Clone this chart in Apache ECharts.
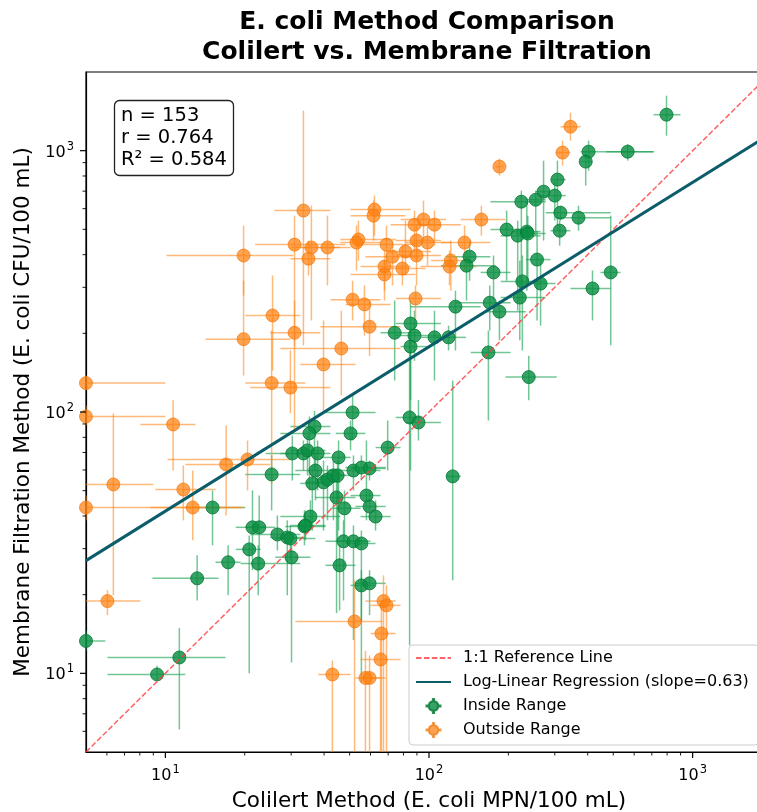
<!DOCTYPE html>
<html><head><meta charset="utf-8">
<script src="https://cdn.jsdelivr.net/npm/echarts@6/dist/echarts.min.js"></script>
<style>html,body{margin:0;padding:0;background:#fff}#chart{width:757px;height:812px}</style>
</head><body><div id="chart"></div>
<script>
const FONT = "'DejaVu Sans', sans-serif";
const titleText = 'E. coli Method Comparison\nColilert vs. Membrane Filtration';
const xName = 'Colilert Method (E. coli MPN/100 mL)';
const yName = 'Membrane Filtration Method (E. coli CFU/100 mL)';
const xRange = [5, 2000];
const yRange = [5, 2000];
const majorTicks = [10, 100, 1000];
const tickBases = ['10', '10', '10'];
const tickExponents = ['1', '2', '3'];
const minorTicks = [6,7,8,9,20,30,40,50,60,70,80,90,200,300,400,500,600,700,800,900];
const refLine = [[5, 5], [2000, 2000]];
const regressionLine = [[5, 27], [2000, 1170]];
const statsLines = ['n = 153', 'r = 0.764', 'R\u00b2 = 0.584'];
const seriesNames = ['1:1 Reference Line', 'Log-Linear Regression (slope=0.63)', 'Inside Range', 'Outside Range'];

// [x, y, xLow, xHigh, yLow, yHigh]
const insideRange = [
[796,1373,711,900,1141,1623],[403,991,376,711,838,1092],[567,991,470,711,916,1060],[393,908,376,417,735,1000],
[307,775,289,330,494,916],[272,697,254,289,453,916],[254,649,233,277,473,703],[300,673,265,330,540,768],
[224,638,171,277,291,703],[315,579,277,489,540,616],[369,554,302,489,494,616],[313,494,289,344,433,540],
[197,499,171,243,318,590],[217,473,187,265,244,540],[235,490,204,265,291,644],[237,482,213,277,318,564],
[257,383,233,289,224,494],[142.5,393,116,171,318,453],[138.8,363,111,179,267,415],[175.7,342,157,204,267,397],
[226,316,187,277,172,397],[265,310,222,302,214,380],[489,342,447,533,180,564],[417,297,344,489,224,348],
[221,274,187,277,188,380],[170,262,126,204,205,305],[126,253,85.1,157,172,291],[185,242,164,233,188,267],
[85.1,218,74.8,111,59.7,267],[74.1,201,65.5,92.9,132,267],[88.1,196,74.8,111,157,244],[104.9,193,92.9,121,132,244],
[118.6,193,106.6,138,172,214],[85.1,178,78,101.8,111,205],[168,169,144,204,92.8,205],[239,136,195,305,111,164],
[123,56.7,116,132,22.7,132],[84.4,95.3,74.8,92.9,12.8,205],[91.2,91.2,81.4,111,77.8,111],[69.7,73.1,62.7,78,59.7,92.8],
[51.3,99.6,40.5,62.7,77.8,116],[36.8,88,29.8,42.3,59.7,101],[35.2,82.8,27.3,42.3,50.1,96.1],[50.4,82.8,44.3,57.4,71.3,92.8],
[30.3,69.4,24,38.7,54.7,81.3],[33.4,69.4,27.3,38.7,59.7,77.8],[34.6,71.3,29.8,40.5,57.2,81.3],[37.8,69.4,32.5,42.3,50.1,77.8],
[45.4,67,38.7,50.4,35.2,77.8],[25.3,57.7,20.1,32.5,42,68.2],[37.1,59.7,31.1,44.3,45.9,68.2],[51.7,59.7,42.3,65.5,50.1,68.2],
[55.4,61.3,48.2,68.5,54.7,68.2],[59.5,60.8,50.4,68.5,54.7,65.2],[36.1,53.3,32.5,42.3,35.2,62.4],[39.8,53.8,34,46.1,35.2,65.2],
[41.2,55.2,37.1,46.1,38.5,62.4],[43.4,57.2,38.7,48.2,38.5,65.2],[45,57.2,40.5,50.4,32.3,65.2],[44.6,47.1,37.1,52.6,17,54.7],
[57.9,47.9,50.4,65.5,38.5,77.8],[59.5,43.5,52.6,68.5,38.5,50.1],[62.7,39.8,55,71.5,35.2,45.9],[47.8,42.8,42.3,55,32.3,50.1],
[35.5,39.8,27.3,46.1,35.2,45.9],[33.7,36.5,28.5,40.5,30.9,42],[34,36.8,29.8,40.5,32.3,42],[21.4,36.2,18.5,24,24.8,50.1],
[22.7,36.2,20.1,26.1,24.8,47.9],[26.6,34,21,32.5,29.5,40.2],[29,33.1,25,34,19.9,38.5],[29.8,32.8,26.1,37.1,27,36.8],
[20.8,29.8,18.5,23,10,33.7],[22.5,26.3,19.3,32.5,19.9,30.9],[30.1,27.8,26.1,35.5,11,32.3],[17.3,26.6,15.5,19.3,19.9,30.9],
[15.1,43.1,11.9,20.1,30.9,50.1],[13.2,23.1,8.93,15.9,19,28.3],[47.4,32,40.5,57.4,19,38.5],[51.7,32,44.3,60,13.4,36.8],
[55.4,31.4,48.2,62.7,15.9,35.2],[45.8,25.9,40.5,52.6,17.4,30.9],[55.4,21.7,50.4,62.7,9.2,24.8],[59.5,22.1,52.6,68.5,16.7,24.8],
[5,13.3,4.5,5.92,12.2,14.6],[11.3,11.5,6.03,16.9,6.1,14.9],[9.3,9.9,6.03,11.9,9.4,10.7]
];

const outsideRange = [
[33.4,590,25.9,42.3,180,1422],[19.8,397,10.1,30.6,279,517],[30.9,437,21.9,48.2,178,564],[35.8,426,29.8,46.1,224,616],
[34.9,386,29.8,42.3,333,453],[41.2,426,32.5,50.4,305,564],[54,457,46.1,74.8,380,540],[53.1,445,46.1,65.5,348,517],
[62.1,595,50.4,85.1,473,673],[61.6,564,50.4,81.4,453,644],[69,437,52.6,88.9,363,517],[72.7,393,57.4,92.9,305,453],
[67.8,360,55,85.1,267,415],[67.8,336,50.4,88.9,291,380],[79.3,354,65.5,97.1,305,433],[81.4,411,68.5,101.8,333,540],
[88.1,521,71.5,111,415,590],[95.3,545,78,116,453,644],[104.9,521,85.1,132,433,590],[89.7,453,74.8,111,380,517],
[89.7,397,74.8,111,305,453],[98.7,445,81.4,121,363,517],[136.4,445,111,171,348,517],[121,380,101.8,144,291,453],
[119.6,360,92.9,151,305,415],[158,545,132,195,473,616],[185,869,179,192,802,932],[321,983,302,344,876,1092],
[344,1235,315,376,1092,1398],[51.3,269,42.3,65.5,224,318],[56.9,258,48.2,71.5,196,305],[88.9,272,74.8,111,224,305],
[59.5,212,38.7,78,164,267],[46.5,175,27.3,78,116,244],[39.8,152,32.5,52.6,101,224],[30.9,201,25,38.7,85,267],
[25.5,234,20.1,32.5,144,333],[19.8,190,14.2,29.8,138,318],[29.8,124,21,42.3,99,172],[25.3,129,20.1,34,53,205],
[5,129,4.5,10,121,138],[5,96.1,4.5,10,88.8,106],[5,43.1,4.5,19.8,38.5,47.9],[6.35,52.8,5,9,19.9,98.7],
[10.7,89.6,8.04,13,59.7,111],[11.7,50.5,9.17,15.5,38.5,62.4],[12.7,43.1,8.77,19.3,32.3,59.7],[17,63,11.9,25,40.2,88.8],
[20.5,65.8,10.2,29.8,50.1,77.8],[6.03,18.9,5,8.04,16.7,20.8],[67.2,18.9,57.4,74.8,3,23.7],[69,18.2,60,78,3,21.7],
[52.2,15.8,31.1,66.6,3,22.7],[66,14.2,60,74.8,3,19],[65.5,11.3,55,78,3,13.4],[43,9.9,38,50.4,3,11.2],
[57.4,9.6,52.6,65.5,3,12.2],[59.5,9.6,55,68.5,3,11.7]
];

const GREEN = '#0a8f43', GREEN_BAR = '#14a04f';
const ORANGE = '#ff7f0e', ORANGE_BAR = '#ff8a22';
const MARKER_ICON = 'path://M0,6.4H2.2A5,5 0 0,1 6.4,2.2V0H7.6V2.2A5,5 0 0,1 11.8,6.4H14V7.6H11.8A5,5 0 0,1 7.6,11.8V14H6.4V11.8A5,5 0 0,1 2.2,7.6H0Z';

function errorBars(name, rows, color) {
  return {
    type: 'custom', name: name, data: rows, encode: {x: 0, y: 1}, clip: true, silent: true,
    renderItem: function (params, api) {
      const x = api.value(0), y = api.value(1);
      const a = api.coord([api.value(2), y]), b = api.coord([api.value(3), y]);
      const c = api.coord([x, api.value(4)]), d = api.coord([x, api.value(5)]);
      const style = {stroke: color, lineWidth: 1.5, opacity: 0.6};
      return {type: 'group', children: [
        {type: 'line', shape: {x1: a[0], y1: a[1], x2: b[0], y2: b[1]}, style: style},
        {type: 'line', shape: {x1: c[0], y1: c[1], x2: d[0], y2: d[1]}, style: style}
      ]};
    }
  };
}

function tickMarks(values, onX, len, width) {
  const rows = values.map(v => onX ? [v, yRange[0]] : [xRange[0], v]);
  return {
    type: 'custom', data: rows, encode: {x: 0, y: 1}, clip: false, silent: true, z: 5,
    renderItem: function (params, api) {
      const p = api.coord([api.value(0), api.value(1)]);
      const shape = onX ? {x1: p[0], y1: p[1], x2: p[0], y2: p[1] + len}
                        : {x1: p[0] - len, y1: p[1], x2: p[0], y2: p[1]};
      return {type: 'line', shape: shape, style: {stroke: '#000', lineWidth: width}};
    }
  };
}

function labelFor(v) {
  const i = majorTicks.findIndex(t => Math.abs(t - v) / t < 1e-6);
  return i >= 0 ? '{b|' + tickBases[i] + '}{s|' + tickExponents[i] + '}' : '';
}

function axisCommon(range, name, isX) {
  return {
    type: 'log', logBase: 10, min: range[0], max: range[1],
    axisLine: {show: true, lineStyle: {color: '#000', width: 1.2}},
    axisTick: {show: false},
    splitLine: {show: false},
    minorTick: {show: false},
    axisLabel: {
      formatter: labelFor, color: '#000', fontFamily: FONT, margin: isX ? 12 : 12,
      rich: {
        b: {fontSize: 16, lineHeight: 20, fontFamily: FONT, color: '#000', verticalAlign: 'bottom'},
        s: {fontSize: 11.5, lineHeight: 20, fontFamily: FONT, color: '#000', verticalAlign: 'top', padding: [0, 0, 7, 1]}
      }
    },
    name: name, nameLocation: 'middle', nameGap: isX ? 38 : 47,
    nameTextStyle: {fontSize: 21.5, color: '#000', fontFamily: FONT}
  };
}

const chart = echarts.init(document.getElementById('chart'), null, {renderer: 'canvas'});
chart.setOption({
  backgroundColor: '#fff',
  animation: false,
  textStyle: {fontFamily: FONT},
  title: [
    {text: titleText, left: 422, top: 2, textAlign: 'center',
     textStyle: {fontSize: 25, fontWeight: 'bold', color: '#000', fontFamily: FONT, lineHeight: 30}},
    {text: statsLines.join('\n'), left: 114, top: 100,
     borderColor: '#222', borderWidth: 1.3, borderRadius: 5, backgroundColor: '#fff', padding: [5, 7, 5, 7],
     textStyle: {fontSize: 19.5, fontWeight: 'normal', color: '#000', fontFamily: FONT, lineHeight: 22}}
  ],
  grid: {left: 86, top: 72, right: -15, bottom: 60, show: true, borderColor: '#000', borderWidth: 1.2,
         outerBoundsMode: 'none', containLabel: false},
  xAxis: axisCommon(xRange, xName, true),
  yAxis: axisCommon(yRange, yName, false),
  legend: {
    data: [
      {name: seriesNames[0], itemStyle: {opacity: 0}},
      {name: seriesNames[1], itemStyle: {opacity: 0}},
      {name: seriesNames[2], icon: MARKER_ICON},
      {name: seriesNames[3], icon: MARKER_ICON}
    ],
    orient: 'vertical', left: 409, top: 645,
    itemWidth: 35, itemHeight: 14, itemGap: 8, padding: [5, 10, 7, 6],
    backgroundColor: 'rgba(255,255,255,0.85)', borderColor: '#ccc', borderWidth: 1, borderRadius: 4,
    textStyle: {fontSize: 16, lineHeight: 16, color: '#000', fontFamily: FONT, padding: [0, 0, 0, 7]},
    selectedMode: false
  },
  series: [
    errorBars('Inside Range errors', insideRange, GREEN_BAR),
    {type: 'scatter', name: seriesNames[2], data: insideRange, encode: {x: 0, y: 1}, symbolSize: 13,
     itemStyle: {color: GREEN, opacity: 0.82, borderColor: '#077a37', borderWidth: 1}},
    errorBars('Outside Range errors', outsideRange, ORANGE_BAR),
    {type: 'scatter', name: seriesNames[3], data: outsideRange, encode: {x: 0, y: 1}, symbolSize: 13,
     itemStyle: {color: ORANGE, opacity: 0.72, borderColor: '#f07a10', borderWidth: 1}},
    {type: 'line', name: seriesNames[0], data: refLine, symbol: 'none', showSymbol: false,
     lineStyle: {color: '#ff3b3b', width: 1.5, type: [5.5, 2.4], opacity: 0.8}, itemStyle: {color: '#ff3b3b'}},
    {type: 'line', name: seriesNames[1], data: regressionLine, symbol: 'none', showSymbol: false,
     lineStyle: {color: '#0b5d69', width: 3}, itemStyle: {color: '#0b5d69'}},
    tickMarks(majorTicks, true, 6, 1.2),
    tickMarks(majorTicks, false, 6, 1.2),
    tickMarks(minorTicks, true, 3.5, 0.9),
    tickMarks(minorTicks, false, 3.5, 0.9)
  ]
});
</script></body></html>
